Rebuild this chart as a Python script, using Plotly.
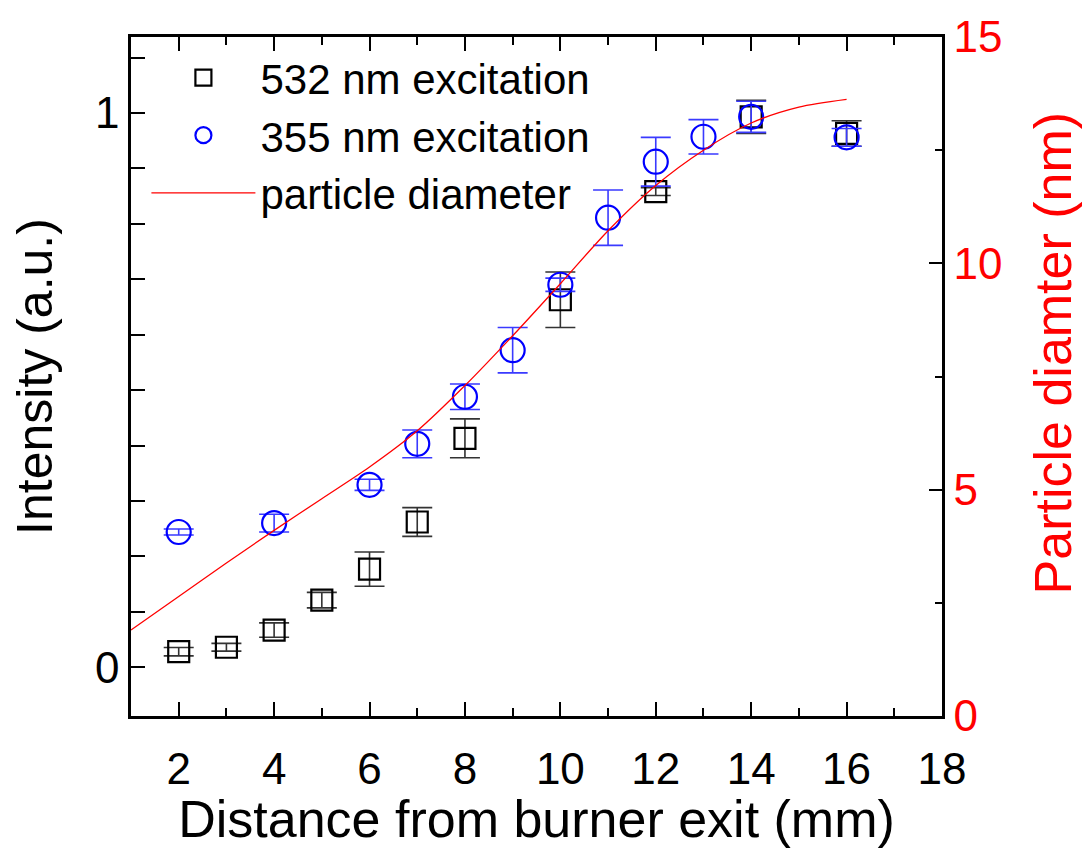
import plotly.graph_objects as go

# Distance from burner exit (mm)
x_532 = [2, 3, 4, 5, 6, 7, 8, 10, 12, 14, 16]
int_532 = [0.028, 0.036, 0.067, 0.121, 0.177, 0.262, 0.413, 0.663, 0.858, 0.993, 0.963]
err_532 = [0.0075, 0.007, 0.013, 0.014, 0.031, 0.026, 0.035, 0.050, 0.007, 0.030, 0.023]

x_355 = [2, 4, 6, 7, 8, 9, 10, 11, 12, 13, 14, 16]
int_355 = [0.244, 0.260, 0.329, 0.403, 0.488, 0.572, 0.690, 0.811, 0.912, 0.957, 0.993, 0.956]
err_355 = [0.0055, 0.016, 0.010, 0.025, 0.023, 0.041, 0.012, 0.050, 0.044, 0.031, 0.028, 0.016]

x_diam = [1, 2, 3, 4, 5, 6, 7, 8, 9, 10, 11, 12, 13, 14, 15, 16]
diam_nm = [1.90, 2.64, 3.38, 4.10, 4.80, 5.50, 6.30, 7.30, 8.40, 9.55, 10.72, 11.72, 12.50, 13.10, 13.45, 13.62]

# Left axis ticks: every 0.1, only 0 and 1 labelled
y_tickvals = [0, 0.1, 0.2, 0.3, 0.4, 0.5, 0.6, 0.7, 0.8, 0.9, 1.0, 1.1]
y_ticktext = ["0", "", "", "", "", "", "", "", "", "", "1", ""]

FONT = "Liberation Sans, Arial, sans-serif"

fig = go.Figure()

fig.add_trace(go.Scatter(
    x=x_532, y=int_532, mode="markers", name="532 nm excitation",
    marker=dict(symbol="square-open", size=21, color="black", line=dict(width=2.2, color="black")),
    error_y=dict(type="data", array=err_532, visible=True, color="#333333", thickness=1.6, width=15),
))
fig.add_trace(go.Scatter(
    x=x_355, y=int_355, mode="markers", name="355 nm excitation",
    marker=dict(symbol="circle-open", size=24, color="#0000ff", line=dict(width=2.2, color="#0000ff")),
    error_y=dict(type="data", array=err_355, visible=True, color="#3a3aff", thickness=1.6, width=15),
))
fig.add_trace(go.Scatter(
    x=x_diam, y=diam_nm, mode="lines", name="particle diameter",
    yaxis="y2",
    line=dict(color="#ff0000", width=1.3, shape="spline", smoothing=0.8),
))

fig.update_layout(
    width=1085, height=848,
    margin=dict(l=131, r=143, t=37, b=132, autoexpand=False),
    paper_bgcolor="white", plot_bgcolor="white",
    font=dict(family=FONT, color="black", size=44),
    showlegend=True,
    legend=dict(
        x=0.019, y=0.99, xanchor="left", yanchor="top",
        bgcolor="rgba(0,0,0,0)", borderwidth=0,
        font=dict(size=42, family=FONT),
        itemwidth=104, tracegroupgap=0,
    ),
    xaxis=dict(
        range=[1, 18], tick0=0, dtick=2, automargin=False,
        ticks="inside", ticklen=14, tickwidth=2, tickcolor="black",
        minor=dict(ticks="inside", ticklen=8, tickwidth=2, dtick=1, tick0=0, tickcolor="black"),
        showline=True, linewidth=2.5, linecolor="black", mirror="ticks",
        showgrid=False, zeroline=False,
        tickfont=dict(size=44, family=FONT),
        ticklabelstandoff=12,
        title=dict(text="Distance from burner exit (mm)", font=dict(size=52, family=FONT), standoff=14),
    ),
    yaxis=dict(
        range=[-0.088, 1.137], automargin=False,
        tickmode="array", tickvals=y_tickvals, ticktext=y_ticktext,
        ticks="inside", ticklen=14, tickwidth=2, tickcolor="black",
        showline=True, linewidth=2.5, linecolor="black", mirror=True,
        showgrid=False, zeroline=False,
        tickfont=dict(size=44, family=FONT),
        title=dict(text="Intensity (a.u.)", font=dict(size=50, family=FONT), standoff=27),
    ),
    yaxis2=dict(
        range=[0, 15], overlaying="y", side="right", automargin=False,
        tick0=0, dtick=5,
        ticks="inside", ticklen=13, tickwidth=2, tickcolor="black",
        minor=dict(ticks="inside", ticklen=7, tickwidth=2, dtick=2.5, tick0=0, tickcolor="black"),
        showline=True, linewidth=2.5, linecolor="black",
        showgrid=False, zeroline=False,
        tickfont=dict(size=44, family=FONT, color="#ff0000"),
    ),
    annotations=[dict(
        text="Particle diamter (nm)", textangle=-90,
        xref="paper", yref="paper", x=1.1365, y=0.535,
        xanchor="center", yanchor="middle", showarrow=False,
        font=dict(size=52, family=FONT, color="#ff0000"),
    )],
)

fig.write_html("out.html")
